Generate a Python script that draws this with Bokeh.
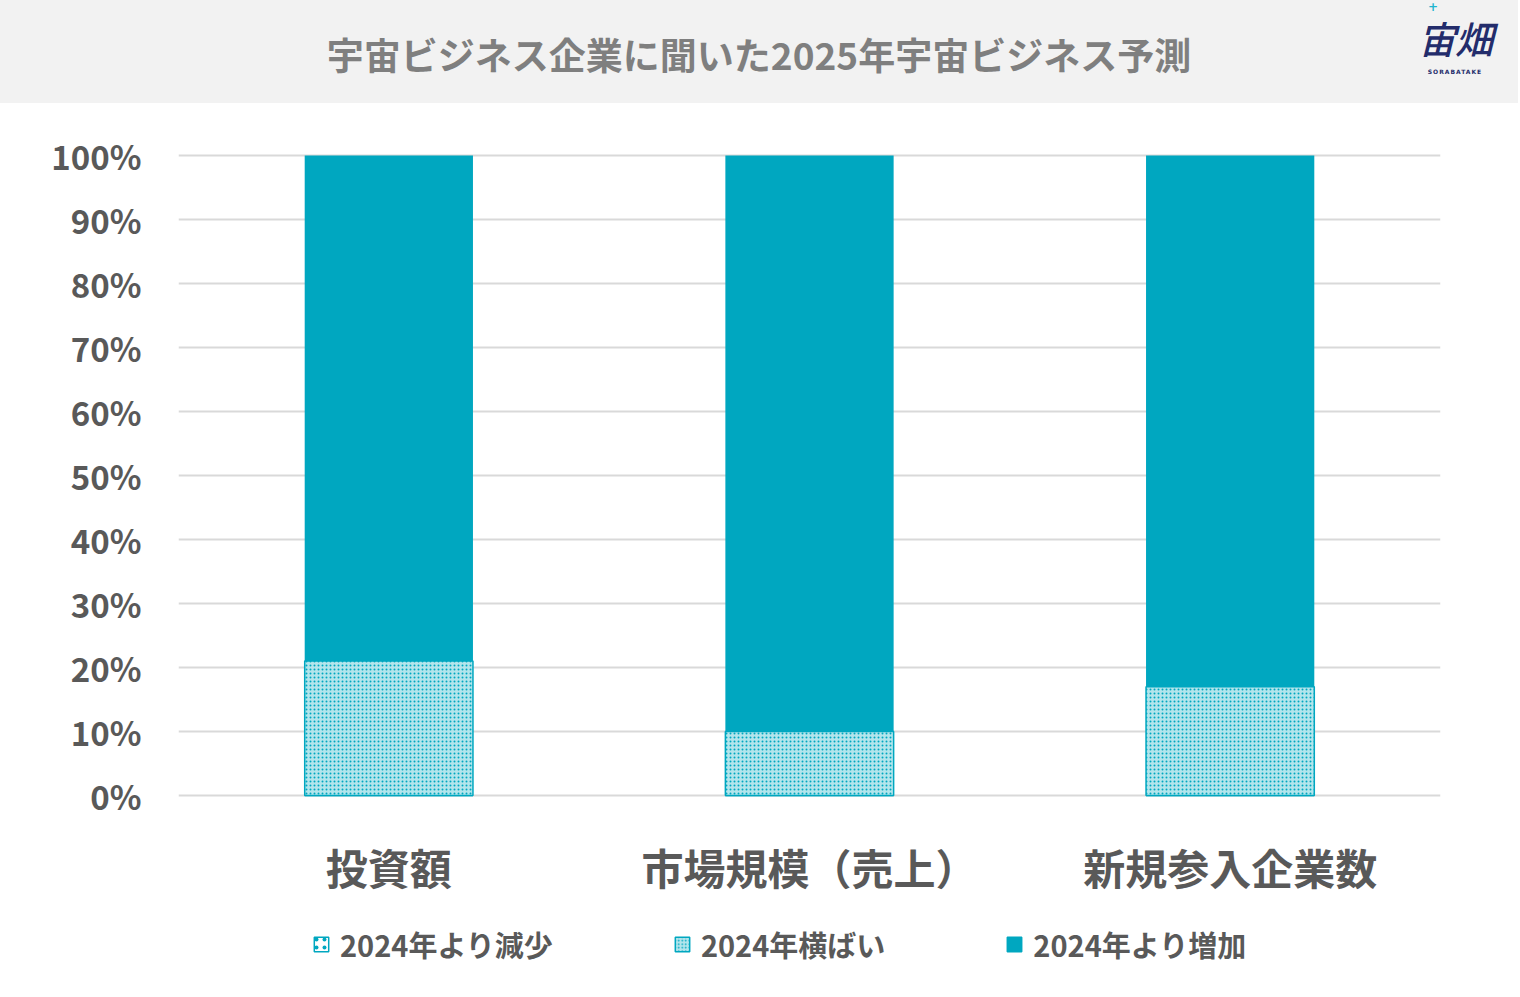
from bokeh.plotting import figure
from bokeh.models import ColumnDataSource, FactorRange, Range1d, FixedTicker, Legend, LegendItem, Div
from bokeh.layouts import column
from bokeh.embed import file_html
from bokeh.resources import INLINE

# ---- data ----
title_text = "宇宙ビジネス企業に聞いた2025年宇宙ビジネス予測"
logo_text = "宙畑"
logo_sub = "SORABATAKE"
categories = ["投資額", "市場規模（売上）", "新規参入企業数"]
series_names = ["2024年より減少", "2024年横ばい", "2024年より増加"]
decrease = [0, 0, 0]
flat = [21, 10, 17]
increase = [79, 90, 83]
tick_values = [0, 10, 20, 30, 40, 50, 60, 70, 80, 90, 100]
tick_labels = ["0%", "10%", "20%", "30%", "40%", "50%", "60%", "70%", "80%", "90%", "100%"]

FONT_NAME = "Noto Sans CJK JP"
TEAL = "#00A7C0"
GRAY_TXT = "#595959"

W = 1518
TOP_H = 103
MAIN_H = 812
LEG_H = 995 - TOP_H - MAIN_H

# series styles
fills = ["white", "#B3E5EC", TEAL]
lines = [TEAL, TEAL, TEAL]
lwidths = [1.5, 1.5, 0]
hatches = ["dot", "dot", None]
hscales = [8, 4, 1]
hweights = [1.5, 3.5, 1]

# ---- title band (HTML) ----
band_html = f"""
<div style="position:relative;width:{W}px;height:{TOP_H}px;background:#F2F2F2;overflow:hidden;">
  <div style="position:absolute;left:0;top:26px;width:1518px;text-align:center;
              font-family:'{FONT_NAME}';font-weight:bold;font-size:37px;line-height:56px;color:#7F7F7F;">{title_text}</div>
  <div style="position:absolute;left:1408px;top:18px;width:94px;text-align:center;
              font-family:'{FONT_NAME}';font-weight:500;font-size:38px;line-height:40px;color:#232C6B;
              font-style:italic;letter-spacing:-1px;">{logo_text}</div>
  <div style="position:absolute;left:1408px;top:68px;width:94px;text-align:center;
              font-family:'DejaVu Sans';font-weight:bold;font-size:6px;line-height:7px;color:#232C6B;
              letter-spacing:1px;">{logo_sub}</div>
  <div style="position:absolute;left:1428px;top:1px;font-family:'DejaVu Sans';font-weight:bold;
              font-size:12px;line-height:12px;color:#1FB5CF;">+</div>
</div>
"""
band = Div(text=band_html, width=W, height=TOP_H, margin=0)

# ---- main chart ----
src = ColumnDataSource(dict(cat=categories, dec=decrease, flat=flat, inc=increase))

pad = 2 / 6.4  # 2px of padding in data units (640px per 100%)
p = figure(width=W, height=MAIN_H, x_range=FactorRange(*categories),
           y_range=Range1d(-pad, 100 + pad),
           output_backend="svg", toolbar_location=None,
           min_border_left=178, min_border_right=78, min_border_top=50,
           min_border_bottom=MAIN_H - 50 - 644)
p.background_fill_color = "white"
p.border_fill_color = "white"
p.outline_line_color = None

p.vbar_stack(["dec", "flat", "inc"], x="cat", width=0.40, source=src,
             fill_color=fills, line_color=lines, line_width=lwidths,
             hatch_pattern=hatches, hatch_color=lines,
             hatch_scale=hscales, hatch_weight=hweights)

p.xgrid.grid_line_color = None
p.ygrid.grid_line_color = "#D9D9D9"
p.ygrid.grid_line_width = 2
p.yaxis.ticker = FixedTicker(ticks=tick_values)
p.yaxis.major_label_overrides = {v: l for v, l in zip(tick_values, tick_labels)}
for ax in (p.xaxis, p.yaxis):
    ax.axis_line_color = None
    ax.major_tick_line_color = None
    ax.minor_tick_line_color = None
    ax.major_tick_out = 0
    ax.major_tick_in = 0
    ax.major_label_text_font = FONT_NAME
    ax.major_label_text_font_style = "bold"
    ax.major_label_text_color = GRAY_TXT
p.yaxis.major_label_text_font_size = "33px"
p.yaxis.major_label_standoff = 37
p.xaxis.major_label_text_font_size = "42px"
p.xaxis.major_label_standoff = 38

# ---- legend strip (same series, renderers hidden; only the legend shows) ----
lp = figure(width=W, height=LEG_H, x_range=FactorRange(*categories), y_range=Range1d(-2000, -1000),
            x_axis_type=None, y_axis_type=None, output_backend="svg", toolbar_location=None,
            min_border_left=178, min_border_right=78, min_border_top=0, min_border_bottom=0)
lp.background_fill_color = "white"
lp.border_fill_color = "white"
lp.outline_line_color = None
lrs = lp.vbar_stack(["dec", "flat", "inc"], x="cat", width=0.40, source=src,
                    fill_color=fills, line_color=lines, line_width=[1.5, 1.5, 1.5],
                    hatch_pattern=hatches, hatch_color=lines,
                    hatch_scale=[8, 3.5, 1], hatch_weight=[1.5, 3, 1])
for r in lrs:
    r.visible = False
lg = Legend(items=[LegendItem(label=n, renderers=[r]) for n, r in zip(series_names, lrs)])
lg.orientation = "horizontal"
lg.location = (134, 30)
lg.border_line_color = None
lg.background_fill_alpha = 0
lg.inactive_fill_alpha = 0
lg.padding = 0
lg.margin = 0
lg.spacing = 120
lg.glyph_width = 18
lg.glyph_height = 18
lg.label_standoff = 10
lg.label_text_font = FONT_NAME
lg.label_text_font_style = "bold"
lg.label_text_font_size = "29px"
lg.label_text_color = GRAY_TXT
lp.add_layout(lg)

layout = column(band, p, lp, spacing=0)
open("out.html", "w").write(file_html(layout, INLINE))
